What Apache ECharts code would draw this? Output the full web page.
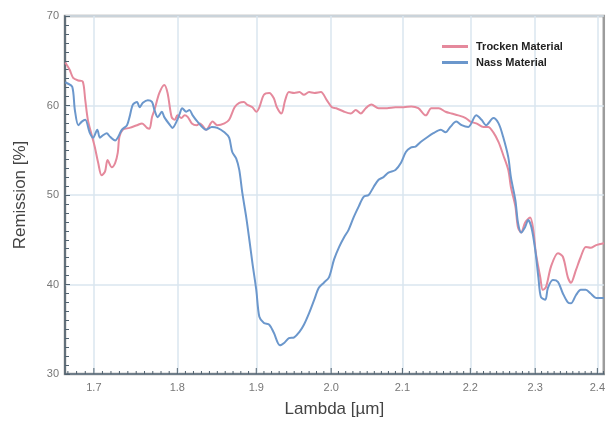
<!DOCTYPE html>
<html>
<head>
<meta charset="utf-8">
<script src="https://cdn.jsdelivr.net/npm/echarts@6/dist/echarts.min.js"></script>
<style>
  html, body { margin: 0; padding: 0; background: #fff; }
  #chart { width: 608px; height: 426px; }
</style>
</head>
<body>
<div id="chart"></div>
<script>
// Legend names
var seriesNames = ['Trocken Material', 'Nass Material'];

// Labelled wavelength ticks (µm)
var xTicks = [1.7, 1.8, 1.9, 2.0, 2.1, 2.2, 2.3, 2.4];

// Trocken Material (pink)
var trockenLambda = [1.667, 1.672, 1.676, 1.682, 1.687, 1.690, 1.693, 1.698, 1.701, 1.705,
  1.709, 1.713, 1.716, 1.721, 1.725, 1.728, 1.730, 1.734, 1.742, 1.751,
  1.757, 1.763, 1.766, 1.769, 1.772, 1.778, 1.784, 1.788, 1.793, 1.797,
  1.800, 1.805, 1.809, 1.813, 1.818, 1.824, 1.828, 1.836, 1.844, 1.850,
  1.859, 1.865, 1.872, 1.878, 1.884, 1.888, 1.895, 1.900, 1.904, 1.910,
  1.917, 1.923, 1.927, 1.933, 1.938, 1.943, 1.950, 1.957, 1.963, 1.970,
  1.977, 1.986, 1.994, 2.001, 2.007, 2.018, 2.027, 2.034, 2.041, 2.048,
  2.056, 2.066, 2.078, 2.090, 2.102, 2.113, 2.123, 2.134, 2.142, 2.153,
  2.163, 2.172, 2.182, 2.193, 2.200, 2.209, 2.220, 2.227, 2.235, 2.243,
  2.250, 2.258, 2.262, 2.269, 2.273, 2.278, 2.284, 2.292, 2.297, 2.301,
  2.308, 2.312, 2.317, 2.325, 2.336, 2.344, 2.352, 2.357, 2.365, 2.373,
  2.381, 2.389, 2.398, 2.411];
var trockenValue = [64.8, 64.0, 63.1, 62.8, 62.7, 60.6, 58.4, 56.5, 55.4, 53.6,
  52.2, 52.6, 53.9, 53.1, 53.6, 54.7, 56.5, 57.3, 57.5, 57.8,
  58.0, 57.5, 57.4, 58.7, 59.5, 61.4, 62.3, 61.4, 58.7, 58.4,
  58.9, 58.6, 58.9, 58.7, 58.0, 57.8, 58.0, 57.3, 58.2, 57.8,
  58.0, 58.4, 59.8, 60.3, 60.4, 60.1, 59.8, 59.3, 59.8, 61.2,
  61.4, 60.8, 59.8, 59.1, 60.6, 61.5, 61.4, 61.5, 61.2, 61.5,
  61.4, 61.5, 60.6, 59.8, 59.7, 59.3, 59.1, 59.5, 59.1, 59.7,
  60.1, 59.7, 59.7, 59.8, 59.8, 59.9, 59.7, 58.9, 59.7, 59.7,
  59.3, 59.1, 58.9, 58.6, 58.2, 58.0, 57.6, 57.6, 57.0, 55.9,
  54.5, 52.8, 50.9, 48.7, 46.4, 45.8, 46.9, 47.5, 46.1, 43.5,
  40.8, 39.4, 39.7, 42.0, 43.5, 43.1, 40.8, 40.2, 41.6, 43.1,
  44.2, 44.1, 44.4, 44.6];

// Nass Material (blue)
var nassLambda = [1.667, 1.669, 1.675, 1.678, 1.682, 1.686, 1.690, 1.695, 1.699, 1.704,
  1.707, 1.711, 1.715, 1.719, 1.725, 1.728, 1.733, 1.739, 1.742, 1.746,
  1.751, 1.754, 1.758, 1.764, 1.769, 1.772, 1.776, 1.781, 1.784, 1.791,
  1.794, 1.799, 1.803, 1.806, 1.811, 1.815, 1.819, 1.825, 1.836, 1.843,
  1.850, 1.859, 1.865, 1.869, 1.874, 1.878, 1.882, 1.887, 1.891, 1.895,
  1.900, 1.904, 1.910, 1.917, 1.923, 1.931, 1.937, 1.943, 1.950, 1.957,
  1.963, 1.970, 1.977, 1.983, 1.990, 1.997, 2.004, 2.011, 2.018, 2.024,
  2.031, 2.038, 2.045, 2.052, 2.059, 2.066, 2.073, 2.080, 2.090, 2.098,
  2.105, 2.112, 2.119, 2.126, 2.135, 2.145, 2.156, 2.163, 2.170, 2.179,
  2.187, 2.197, 2.209, 2.217, 2.224, 2.235, 2.243, 2.250, 2.258, 2.262,
  2.269, 2.273, 2.278, 2.284, 2.289, 2.294, 2.300, 2.305, 2.309, 2.316,
  2.320, 2.328, 2.336, 2.344, 2.352, 2.357, 2.365, 2.373, 2.381, 2.389,
  2.398, 2.411];
var nassValue = [62.6, 62.5, 62.1, 59.5, 57.8, 58.2, 58.4, 57.0, 56.4, 57.3,
  56.4, 56.7, 56.9, 56.5, 56.1, 56.4, 57.3, 57.8, 58.7, 60.1,
  60.4, 59.8, 60.3, 60.6, 60.4, 59.5, 58.7, 59.3, 58.7, 57.8,
  57.5, 58.2, 59.1, 59.7, 59.3, 59.5, 58.9, 58.2, 57.3, 57.6,
  57.5, 57.0, 56.4, 54.8, 54.1, 52.8, 50.2, 47.5, 45.0, 42.4,
  39.4, 36.4, 35.7, 35.5, 34.6, 33.2, 33.5, 34.0, 34.1, 34.7,
  35.5, 36.8, 38.3, 39.6, 40.2, 40.8, 42.8, 44.2, 45.3, 46.1,
  47.5, 48.7, 49.8, 50.0, 50.9, 51.7, 52.0, 52.5, 52.8, 53.6,
  54.8, 55.3, 55.4, 55.9, 56.4, 56.9, 57.3, 57.0, 57.6, 58.2,
  57.8, 57.6, 58.9, 58.4, 57.8, 58.6, 58.0, 56.5, 54.2, 52.0,
  49.4, 46.9, 45.8, 46.4, 47.2, 46.4, 43.9, 40.8, 38.6, 38.3,
  39.6, 40.5, 40.3, 39.0, 38.0, 37.9, 38.8, 39.4, 39.4, 39.0,
  38.5, 38.5];

var xMin = 1.6667, xMax = 2.4106;
var yMin = 30, yMax = 70;

// small ticks every 0.01 µm (major ones every 0.1)
var wavelengthTicks = [];
for (var i = 167; i <= 241; i++) wavelengthTicks.push([i / 100, i % 10 === 0 ? 6 : 3]);

var axisColor = '#51626f';
var gridColor = '#dae6ef';
var font = "'Liberation Sans', Arial, sans-serif";

var chart = echarts.init(document.getElementById('chart'));

var option = {
  animation: false,
  backgroundColor: '#fff',
  grid: {
    left: 65, right: 2, top: 16, bottom: 52,
    show: true, borderColor: '#9c9c9c', borderWidth: 2.5
  },
  legend: {
    data: seriesNames,
    orient: 'vertical',
    left: 437, top: 36,
    icon: 'rect',
    itemWidth: 26, itemHeight: 3, itemGap: 5,
    textStyle: { fontFamily: font, fontSize: 11, fontWeight: 'bold', color: '#222', padding: [0, 0, 0, 3] }
  },
  xAxis: {
    type: 'log',
    logBase: 10,
    min: xMin,
    max: xMax,
    name: 'Lambda [µm]',
    nameLocation: 'middle',
    nameGap: 27,
    nameTextStyle: { fontFamily: font, fontSize: 17, color: '#444' },
    axisLine: { show: true, lineStyle: { color: axisColor, width: 1.5 } },
    axisTick: { show: false, customValues: xTicks },
    axisLabel: {
      customValues: xTicks, margin: 8, color: '#777', fontSize: 11, fontFamily: font,
      formatter: function (v) { return Number(v).toFixed(1); }
    },
    splitLine: { show: true, lineStyle: { color: gridColor, width: 1.5 } }
  },
  yAxis: {
    type: 'value',
    min: yMin, max: yMax, interval: 10,
    name: 'Remission [%]',
    nameLocation: 'middle',
    nameGap: 36,
    nameTextStyle: { fontFamily: font, fontSize: 17, color: '#444' },
    axisLine: { show: true, lineStyle: { color: axisColor, width: 1.5 } },
    axisTick: { show: true, inside: true, length: 5, lineStyle: { color: axisColor } },
    minorTick: { show: true, splitNumber: 10, length: 4, lineStyle: { color: axisColor } },
    axisLabel: { margin: 6, color: '#777', fontSize: 11, fontFamily: font },
    splitLine: { show: true, lineStyle: { color: gridColor, width: 1.5 } }
  },
  series: [{
    name: seriesNames[0],
    type: 'line',
    showSymbol: false,
    smooth: 0.3,
    color: '#e5899c',
    lineStyle: { width: 2, color: '#e5899c' },
    data: trockenLambda.map(function (l, i) { return [l, trockenValue[i]]; })
  }, {
    name: seriesNames[1],
    type: 'line',
    showSymbol: false,
    smooth: 0.3,
    color: '#6b97cc',
    lineStyle: { width: 2, color: '#6b97cc' },
    data: nassLambda.map(function (l, i) { return [l, nassValue[i]]; })
  }, {
    // x-axis tick marks (the log axis leaves them out)
    name: 'ticks',
    type: 'custom',
    silent: true,
    clip: false,
    z: 5,
    data: wavelengthTicks,
    renderItem: function (params, api) {
      var p = api.coord([api.value(0), yMin]);
      var len = api.value(1);
      return {
        type: 'line',
        shape: { x1: p[0], y1: p[1], x2: p[0], y2: p[1] - len },
        style: { stroke: axisColor, lineWidth: 1 }
      };
    }
  }]
};

chart.setOption(option);
</script>
</body>
</html>
